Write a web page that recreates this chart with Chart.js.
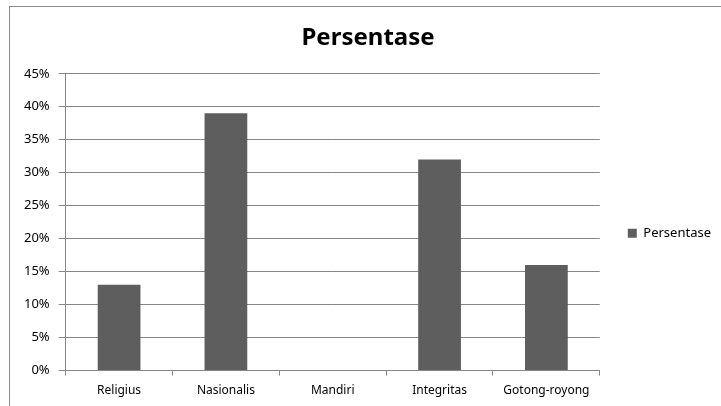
<!DOCTYPE html>
<html>
<head>
<meta charset="utf-8">
<script src="https://cdn.jsdelivr.net/npm/chart.js@4"></script>
<style>
  html, body { margin: 0; padding: 0; background: #fff; }
  #wrap { position: relative; width: 721px; height: 406px; }
</style>
</head>
<body>
<div id="wrap"><canvas id="myChart" width="721" height="406"></canvas></div>
<script>
// chart data
var categories = ["Religius", "Nasionalis", "Mandiri", "Integritas", "Gotong-royong"];
var persentase = [0.13, 0.39, 0, 0.32, 0.16];
var seriesName = "Persentase";
var yMax = 0.45;
var yStep = 0.05;

// outer frame of the excel chart object
var framePlugin = {
  id: "frame",
  beforeDraw: function (chart) {
    var ctx = chart.ctx;
    ctx.save();
    ctx.fillStyle = "#fff";
    ctx.fillRect(0, 0, chart.width, chart.height);
    ctx.strokeStyle = "#8a8a8a";
    ctx.lineWidth = 1;
    ctx.strokeRect(9.5, 6.5, 900, 600);
    ctx.restore();
  },
};

var font = "'Noto Sans', 'DejaVu Sans', sans-serif";

new Chart(document.getElementById("myChart").getContext("2d"), {
  type: "bar",
  data: {
    labels: categories,
    datasets: [
      {
        label: seriesName,
        data: persentase,
        backgroundColor: "#5e5e5e",
        borderWidth: 0,
        barPercentage: 0.4,
        categoryPercentage: 1,
      },
    ],
  },
  options: {
    responsive: false,
    animation: false,
    layout: { padding: { left: 15, right: 0, top: 24, bottom: 0 } },
    plugins: {
      title: {
        display: true,
        text: "Persentase",
        color: "#000",
        font: { family: font, size: 24, weight: "bold" },
        padding: { top: 0, bottom: 21 },
      },
      legend: {
        position: "right",
        // empty title just pushes the single entry a bit lower
        title: { display: true, text: "", font: { size: 12 }, padding: { top: 11, bottom: 11 } },
        labels: {
          boxWidth: 9,
          boxHeight: 9,
          padding: 28,
          color: "#000",
          font: { family: font, size: 13 },
        },
      },
      tooltip: { enabled: false },
    },
    scales: {
      x: {
        offset: true,
        grid: {
          offset: true,
          drawOnChartArea: false,
          color: "#868686",
          tickLength: 5,
        },
        border: { color: "#868686" },
        ticks: {
          color: "#000",
          padding: 8,
          maxRotation: 0,
          font: { family: font, size: 12 },
        },
      },
      y: {
        min: 0,
        max: yMax,
        grid: { color: "#868686", tickLength: 7 },
        border: { color: "#868686" },
        ticks: {
          stepSize: yStep,
          color: "#000",
          padding: 9,
          font: { family: font, size: 13 },
          callback: function (v) {
            return Math.round(v * 100) + "%";
          },
        },
      },
    },
  },
  plugins: [framePlugin],
});
</script>
</body>
</html>
